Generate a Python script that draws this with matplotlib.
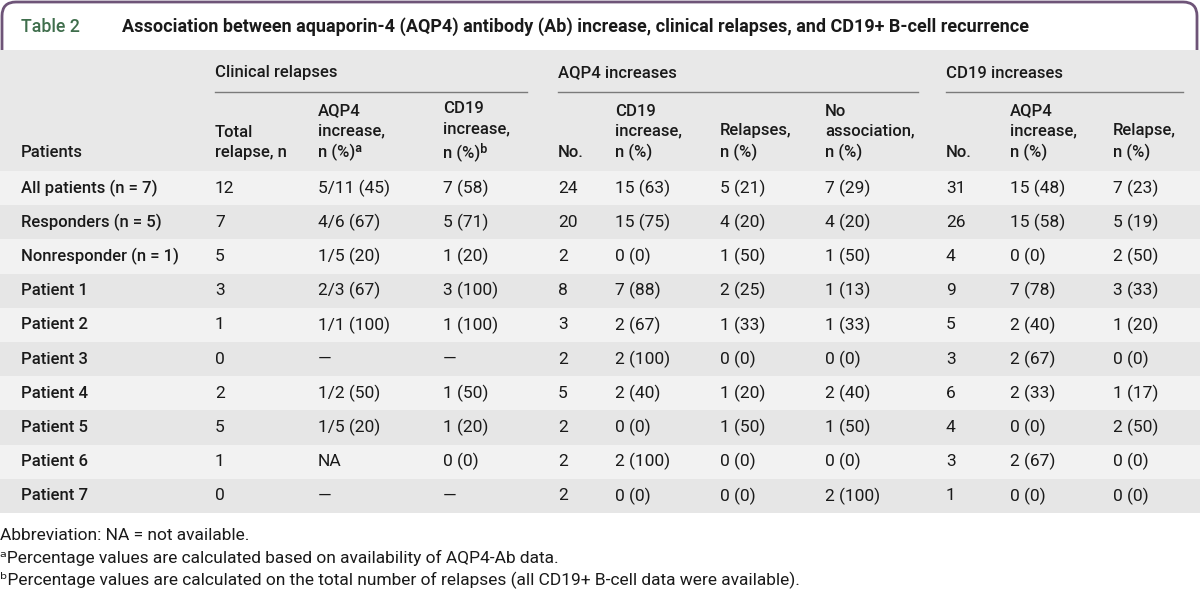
import matplotlib
matplotlib.use("Agg")
import matplotlib.pyplot as plt
from matplotlib.patches import Rectangle, FancyBboxPatch

plt.rcParams['font.family'] = ['Roboto', 'DejaVu Sans']

# table data
patients = ["All patients (n = 7)", "Responders (n = 5)", "Nonresponder (n = 1)",
            "Patient 1", "Patient 2", "Patient 3", "Patient 4", "Patient 5",
            "Patient 6", "Patient 7"]
total_relapse = ["12", "7", "5", "3", "1", "0", "2", "5", "1", "0"]
cr_aqp4 = ["5/11 (45)", "4/6 (67)", "1/5 (20)", "2/3 (67)", "1/1 (100)", "—",
           "1/2 (50)", "1/5 (20)", "NA", "—"]
cr_cd19 = ["7 (58)", "5 (71)", "1 (20)", "3 (100)", "1 (100)", "—",
           "1 (50)", "1 (20)", "0 (0)", "—"]
aqp4_no = ["24", "20", "2", "8", "3", "2", "5", "2", "2", "2"]
aqp4_cd19 = ["15 (63)", "15 (75)", "0 (0)", "7 (88)", "2 (67)", "2 (100)",
             "2 (40)", "0 (0)", "2 (100)", "0 (0)"]
aqp4_rel = ["5 (21)", "4 (20)", "1 (50)", "2 (25)", "1 (33)", "0 (0)",
            "1 (20)", "1 (50)", "0 (0)", "0 (0)"]
aqp4_none = ["7 (29)", "4 (20)", "1 (50)", "1 (13)", "1 (33)", "0 (0)",
             "2 (40)", "1 (50)", "0 (0)", "2 (100)"]
cd19_no = ["31", "26", "4", "9", "5", "3", "6", "4", "3", "1"]
cd19_aqp4 = ["15 (48)", "15 (58)", "0 (0)", "7 (78)", "2 (40)", "2 (67)",
             "2 (33)", "0 (0)", "2 (67)", "0 (0)"]
cd19_rel = ["7 (23)", "5 (19)", "2 (50)", "3 (33)", "1 (20)", "0 (0)",
            "1 (17)", "2 (50)", "0 (0)", "0 (0)"]

groups = ["Clinical relapses", "AQP4 increases", "CD19 increases"]
col_heads = ["Patients", "Total\nrelapse, n", "AQP4\nincrease,\nn (%)ᵃ",
             "CD19\nincrease,\nn (%)ᵇ", "No.", "CD19\nincrease,\nn (%)",
             "Relapses,\nn (%)", "No\nassociation,\nn (%)", "No.",
             "AQP4\nincrease,\nn (%)", "Relapse,\nn (%)"]
columns = [patients, total_relapse, cr_aqp4, cr_cd19, aqp4_no, aqp4_cd19,
           aqp4_rel, aqp4_none, cd19_no, cd19_aqp4, cd19_rel]

col_x = [21, 215, 318, 443, 558, 615, 720, 825, 946, 1010, 1113]
group_span = [(215, 527), (558, 918), (946, 1183)]

fig = plt.figure(figsize=(12, 5.94), dpi=100)
ax = fig.add_axes([0, 0, 1, 1])
ax.set_xlim(0, 1200)
ax.set_ylim(594, 0)
ax.axis("off")

purple = "#6e5478"
txt = "#1a1a1a"

# title box
ax.add_patch(FancyBboxPatch((2, 2), 1195, 80, boxstyle="round,pad=0,rounding_size=14",
                            fc="white", ec=purple, lw=2))
ax.add_patch(Rectangle((0, 50), 1200, 60, fc="white", ec="none"))
ax.text(21, 27, "Table 2", color="#3f6e4c", fontsize=12.8, va="center",
        fontweight="medium")
ax.text(122, 27, "Association between aquaporin-4 (AQP4) antibody (Ab) increase, "
        "clinical relapses, and CD19+ B-cell recurrence", color=txt,
        fontsize=13, va="center", fontweight="bold")

# header
row_top = 171
row_h = 34.2
ax.add_patch(Rectangle((0, 50), 1200, row_top - 50, fc="#e8e8e8", ec="none"))
for i in range(len(patients)):
    fc = "#f2f2f2" if i % 2 == 0 else "#e6e6e6"
    ax.add_patch(Rectangle((0, row_top + i * row_h), 1200, row_h, fc=fc, ec="none"))

for g, (x0, x1) in zip(groups, group_span):
    ax.text(x0, 73, g, fontsize=12, va="center", color=txt, fontweight="medium")
    ax.plot([x0, x1], [92, 92], color="#7a7a7a", lw=1)

for x, h in zip(col_x, col_heads):
    ax.text(x, 157, h, fontsize=12, va="baseline", ha="left", color=txt,
            fontweight="medium", linespacing=1.4)

for j, (x, col) in enumerate(zip(col_x, columns)):
    for i, v in enumerate(col):
        y = row_top + (i + 0.5) * row_h
        ax.text(x, y, v, fontsize=12 if j == 0 else 12.5, va="center", ha="left",
                color=txt, fontweight="medium" if j == 0 else "normal")

# footnotes
fn = 12.5
ax.text(0, 536, "Abbreviation: NA = not available.", fontsize=fn, va="center", color=txt)
ax.text(0, 558, "ᵃPercentage values are calculated based on availability of AQP4-Ab data.",
        fontsize=fn, va="center", color=txt)
ax.text(0, 580, "ᵇPercentage values are calculated on the total number of relapses "
        "(all CD19+ B-cell data were available).", fontsize=fn, va="center", color=txt)

fig.savefig("out.png", dpi=100)
